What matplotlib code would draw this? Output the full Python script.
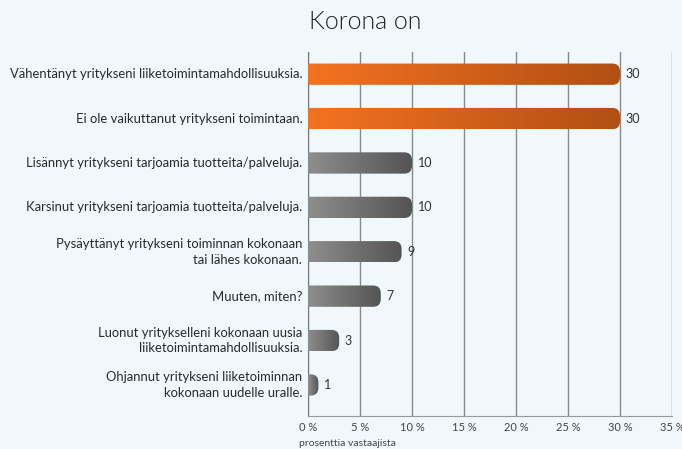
import numpy as np
import matplotlib.pyplot as plt
from matplotlib.patches import FancyBboxPatch
from matplotlib.colors import LinearSegmentedColormap

# data
kategoriat = [
    "Vähentänyt yritykseni liiketoimintamahdollisuuksia.",
    "Ei ole vaikuttanut yritykseni toimintaan.",
    "Lisännyt yritykseni tarjoamia tuotteita/palveluja.",
    "Karsinut yritykseni tarjoamia tuotteita/palveluja.",
    "Pysäyttänyt yritykseni toiminnan kokonaan\ntai lähes kokonaan.",
    "Muuten, miten?",
    "Luonut yritykselleni kokonaan uusia\nliiketoimintamahdollisuuksia.",
    "Ohjannut yritykseni liiketoiminnan\nkokonaan uudelle uralle.",
]
arvot = [30, 30, 10, 10, 9, 7, 3, 1]
korostus = [True, True, False, False, False, False, False, False]
x_tikit = [0, 5, 10, 15, 20, 25, 30, 35]

tausta = "#f0f8fc"
oranssi = LinearSegmentedColormap.from_list("or", ["#f47221", "#b14f14"])
harmaa = LinearSegmentedColormap.from_list("gr", ["#8e8e8e", "#545454"])

plt.rcParams['font.family'] = ['Lato', 'DejaVu Sans']

Y_ALA, Y_YLA = 7.7, -0.5

fig = plt.figure(figsize=(6.82, 4.49), dpi=100, facecolor=tausta)
ax = fig.add_axes([308 / 682, 1 - 416 / 449, 364 / 682, 364 / 449],
                  facecolor=tausta)

ax.set_xlim(0, 35)
ax.set_ylim(Y_ALA, Y_YLA)

# aspect of data units for rounded ends
bbox = ax.get_window_extent()
px_x = bbox.width / 35
px_y = bbox.height / (Y_ALA - Y_YLA)
asp = px_x / px_y

ax.set_xticks(x_tikit)
ax.set_xticklabels([f"{t} %" for t in x_tikit], fontsize=8, color="#444")
ax.tick_params(axis="x", length=0, pad=4)
ax.set_yticks([])
ax.grid(axis="x", color="#8a8a8a", linewidth=1)
ax.set_axisbelow(True)
for s in ["top", "right"]:
    ax.spines[s].set_visible(False)
ax.spines["left"].set_color("#777")
ax.spines["bottom"].set_color("#999")

korkeus = 0.48
grad = np.linspace(0, 1, 256).reshape(1, -1)
for i, (nimi, v, k) in enumerate(zip(kategoriat, arvot, korostus)):
    r = 0.75
    patch = FancyBboxPatch((-2, i - korkeus / 2), v + 2, korkeus,
                           boxstyle=f"round,pad=0,rounding_size={r}",
                           mutation_aspect=asp, facecolor="none",
                           edgecolor="none", transform=ax.transData)
    ax.add_patch(patch)
    im = ax.imshow(grad, cmap=oranssi if k else harmaa, aspect="auto",
                   extent=(0, v, i + korkeus / 2, i - korkeus / 2), zorder=3)
    im.set_clip_path(patch)
    ax.text(v + 0.55, i, str(v), va="center", ha="left", fontsize=9,
            color="#333")
    ax.text(-0.55, i, nimi, va="center", ha="right", fontsize=9.4,
            color="#2a2a2a", multialignment="right", linespacing=1.35,
            transform=ax.transData)

ax.set_xlim(0, 35)
ax.set_ylim(Y_ALA, Y_YLA)

fig.text(0.535, 0.952, "Korona on", ha="center", va="center", fontsize=18,
         color="#222", fontweight=300)
fig.text(299 / 682, 1 - 444 / 449, "prosenttia vastaajista", ha="left",
         va="center", fontsize=7.5, color="#444")

fig.savefig("out.png", dpi=100, facecolor=tausta)
